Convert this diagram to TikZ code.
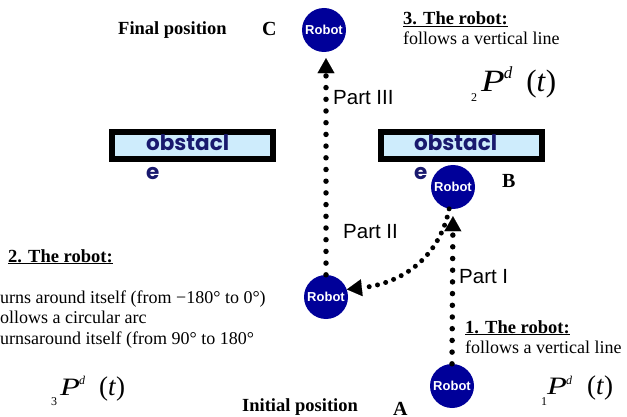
\documentclass[tikz,border=0pt]{standalone}
\usepackage{graphicx}
\usepackage{fontspec}
\setmainfont{Liberation Serif}
\setsansfont{Liberation Sans}
\newfontfamily\obsfont{Poppins}
\usetikzlibrary{arrows.meta}
\definecolor{robotblue}{RGB}{0,0,153}
\definecolor{obsfill}{RGB}{206,236,252}
\definecolor{obstext}{RGB}{25,25,110}
\begin{document}
\begin{tikzpicture}[x=1pt,y=-1pt,
  robot/.style={circle, fill=robotblue, minimum size=44pt, inner sep=0pt, text=white, font=\sffamily\bfseries\fontsize{13}{13}\selectfont},
  txt/.style={anchor=base west, inner sep=0pt, font=\fontsize{18}{18}\selectfont},
  head/.style={anchor=base west, inner sep=0pt, font=\bfseries\fontsize{18.5}{18.5}\selectfont},
  letter/.style={anchor=base west, inner sep=0pt, font=\bfseries\fontsize{20}{20}\selectfont},
  part/.style={anchor=base west, inner sep=0pt, font=\sffamily\fontsize{20.5}{20.5}\selectfont},
  obstbox/.style={draw=black, line width=6pt, fill=obsfill},
  obslabel/.style={anchor=north west, inner sep=0pt, align=left, text=obstext, font=\obsfont\bfseries\fontsize{21.5}{29}\selectfont},
  formula/.style={anchor=base west, inner sep=0pt, font=\mdseries\upshape},
  dots/.style={line width=5.5pt, line cap=round, dash pattern=on 0pt off 11.7pt},
  densedots/.style={line width=5pt, line cap=round, dash pattern=on 0pt off 8.5pt},
  arrowtip/.style={-{Triangle[length=15pt,width=17pt,line width=0.1pt]}}
]
\useasboundingbox (0,0) rectangle (627,417);

% obstacles
\draw[obstbox] (112,132) rectangle (273,159);
\draw[obstbox] (381,132) rectangle (542,159);
\node[obslabel] (obsL) at (146,134) {obstacl\\e};
\node[obslabel] (obsR) at (414,134) {obstacl\\e};

% robots
\node[robot] (C) at (324,30) {Robot};
\node[robot] (B) at (453,187) {Robot};
\node[robot] (L) at (326,297) {Robot};
\node[robot] (A) at (452,386) {Robot};

% connectors
\draw[dots, arrowtip, shorten >=7pt] (A.north) -- (B.south);
\draw[densedots, arrowtip] (B.-100) .. controls (440,255) and (405,283) .. (L.20);
\draw[dots, arrowtip, shorten >=6pt] (L.north) -- (L.north |- C.south);

% labels
\node[head] (fp) at (118,35) {Final position};
\node[letter] (lC) at (262,36) {C};
\node[letter] (lB) at (502,188) {B};
\node[head] (ip) at (242,411) {Initial position};
\node[letter] (lA) at (393,415) {A};

\node[part] (p3) at (333,105) {Part III};
\node[part] (p2) at (343,238) {Part II};
\node[part] (p1) at (459,283) {Part I};

\node[head] (h3) at (403,24.5) {\underline{3. The robot:}};
\node[txt] (t3) at (403,45) {follows a vertical line};

\node[head] (h2) at (8,262) {\underline{2. The robot:}};
\node[txt] (t2a) at (-5,303) {turns around itself (from −180° to 0°)};
\node[txt] (t2b) at (-6,323.5) {follows a circular arc};
\node[txt] (t2c) at (-5,344) {turnsaround itself (from 90° to 180°};

\node[head] (h1) at (465,333) {\underline{1. The robot:}};
\node[txt] (t1) at (465,353) {follows a vertical line};

% formulas
\node[formula] (f2) at (471,92) {\fontsize{12}{12}\selectfont\raisebox{-10pt}{2}\hspace{4pt}\fontsize{31}{31}\selectfont\scalebox{1.25}[1]{\itshape P}\hspace{-1pt}\raisebox{13pt}{\fontsize{17}{17}\selectfont\itshape d}\hspace{14pt}\fontsize{31}{31}\selectfont(\textit{t})};
\node[formula] (f3) at (51,395) {\fontsize{12}{12}\selectfont\raisebox{-10pt}{3}\hspace{3pt}\fontsize{25}{25}\selectfont\scalebox{1.3}[1]{\itshape P}\hspace{-1pt}\raisebox{11pt}{\fontsize{12}{12}\selectfont\itshape d}\hspace{14pt}\fontsize{27}{27}\selectfont(\textit{t})};
\node[formula] (f1) at (541,394) {\fontsize{12}{12}\selectfont\raisebox{-11pt}{1}\hspace{0pt}\fontsize{25}{25}\selectfont\scalebox{1.3}[1]{\itshape P}\hspace{-1pt}\raisebox{10pt}{\fontsize{12}{12}\selectfont\itshape d}\hspace{15pt}\fontsize{27}{27}\selectfont(\textit{t})};
\end{tikzpicture}
\end{document}
